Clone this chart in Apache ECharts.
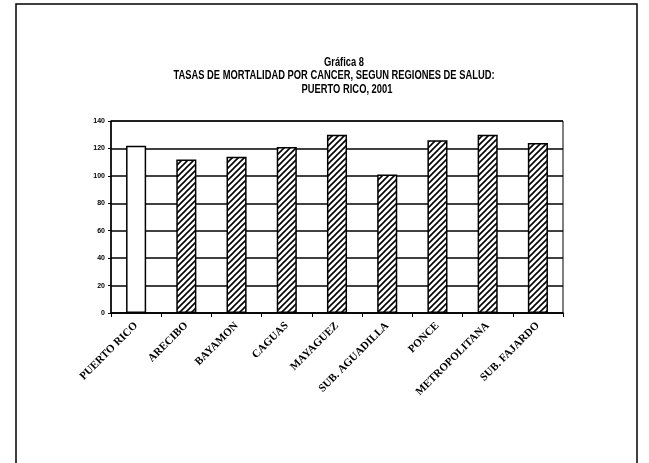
<!DOCTYPE html>
<html>
<head>
<meta charset="utf-8">
<script src="https://cdn.jsdelivr.net/npm/echarts@6/dist/echarts.min.js"></script>
<style>
  html, body { margin: 0; padding: 0; background: #fff; }
  #chart { width: 649px; height: 463px; }
</style>
</head>
<body>
<div id="chart"></div>
<script>
// Regiones de salud y tasas (por 100,000 hab.)
var regiones = ['PUERTO RICO', 'ARECIBO', 'BAYAMON', 'CAGUAS', 'MAYAGUEZ',
  'SUB. AGUADILLA', 'PONCE', 'METROPOLITANA', 'SUB. FAJARDO'];
var tasas = [122, 112, 114, 121, 130, 101, 126, 130, 124];
var yTicks = [0, 20, 40, 60, 80, 100, 120, 140];
var titulo = ['Gráfica 8',
  'TASAS DE MORTALIDAD POR CANCER, SEGUN REGIONES DE SALUD:',
  'PUERTO RICO, 2001'];

// diagonal hatch pattern for the regions
function hatch() {
  var c = document.createElement('canvas');
  c.width = 6; c.height = 6;
  var ctx = c.getContext('2d');
  ctx.fillStyle = '#fff';
  ctx.fillRect(0, 0, 6, 6);
  ctx.strokeStyle = '#000';
  ctx.lineWidth = 1.6;
  ctx.beginPath();
  ctx.moveTo(-1, 7); ctx.lineTo(7, -1);
  ctx.moveTo(-4, 4); ctx.lineTo(4, -4);
  ctx.moveTo(2, 10); ctx.lineTo(10, 2);
  ctx.stroke();
  return c;
}
var pattern = { image: hatch(), repeat: 'repeat' };

var data = tasas.map(function (v, i) {
  return {
    value: v,
    itemStyle: { color: i === 0 ? '#fff' : pattern }
  };
});

// condensed bold title lines (narrow font is not installed, so squeeze it)
var titleX = [344, 334, 347];
var titleY = [62, 75, 89];
var titleText = titulo.map(function (t, i) {
  return {
    type: 'text',
    x: titleX[i], y: titleY[i],
    scaleX: 0.72,
    style: {
      text: t,
      fill: '#000',
      font: 'bold 13px "Liberation Sans", Arial, sans-serif',
      textAlign: 'center',
      textVerticalAlign: 'middle'
    }
  };
});

var myChart = echarts.init(document.getElementById('chart'));

var option = {
  animation: false,
  backgroundColor: '#fff',
  graphic: [{
    type: 'rect',
    shape: { x: 16, y: 4, width: 621, height: 470 },
    style: { fill: 'none', stroke: '#000', lineWidth: 1.5 }
  }].concat(titleText),
  grid: {
    left: 111, right: 86, top: 121, bottom: 150,
    show: true, borderColor: '#000', borderWidth: 1
  },
  xAxis: {
    type: 'category',
    data: regiones,
    axisLine: { lineStyle: { color: '#000', width: 1.5 } },
    axisTick: { show: true, length: 4, lineStyle: { color: '#000' } },
    axisLabel: {
      interval: 0,
      rotate: 45,
      margin: 11,
      color: '#000',
      fontFamily: 'Liberation Serif, Times New Roman, serif',
      fontWeight: 'bold',
      fontSize: 11
    }
  },
  yAxis: {
    type: 'value',
    min: yTicks[0],
    max: yTicks[yTicks.length - 1],
    interval: 20,
    axisLine: { show: true, lineStyle: { color: '#000', width: 1.5 } },
    axisTick: { show: true, length: 3, lineStyle: { color: '#000' } },
    axisLabel: {
      color: '#000',
      fontFamily: 'Liberation Sans, sans-serif',
      fontWeight: 'bold',
      fontSize: 7,
      margin: 6
    },
    splitLine: { lineStyle: { color: '#000', width: 1.5 } }
  },
  series: [{
    type: 'bar',
    data: data,
    barCategoryGap: '60%',
    itemStyle: { borderColor: '#000', borderWidth: 1.5 }
  }]
};

myChart.setOption(option);
</script>
</body>
</html>
